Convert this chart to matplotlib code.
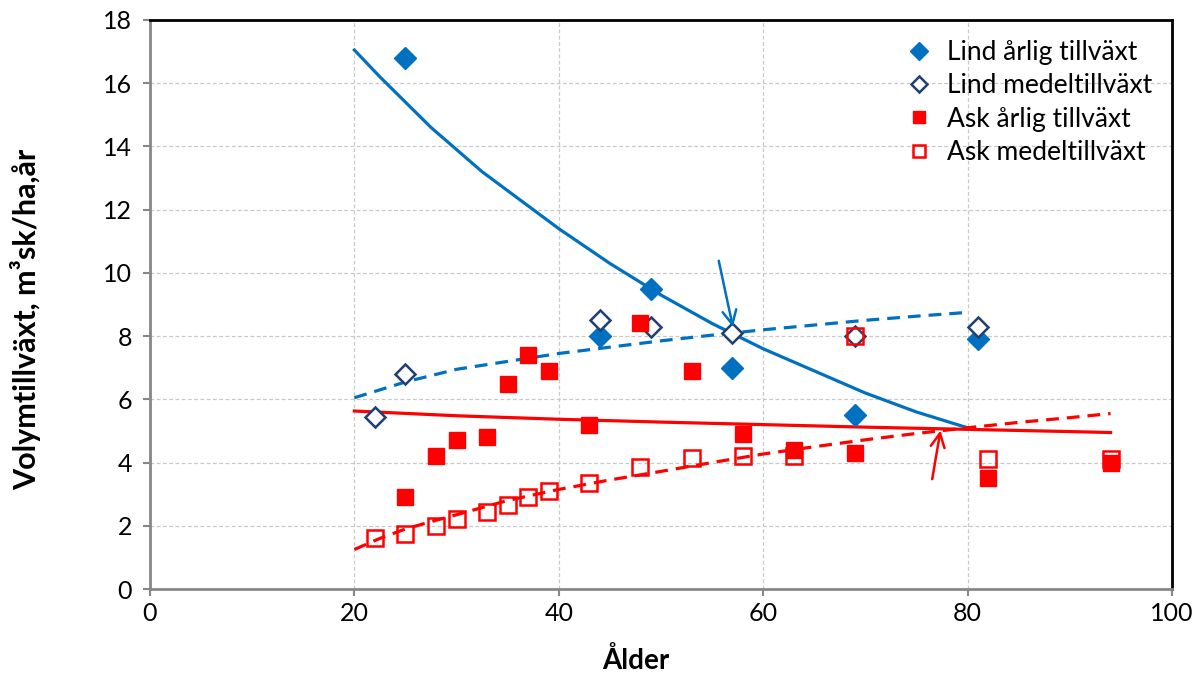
import matplotlib
matplotlib.use("Agg")

import numpy as np
import matplotlib.pyplot as plt

plt.rcParams['font.family'] = ['Lato', 'DejaVu Sans']

# measured points
lind_arlig_x = [25, 44, 49, 57, 69, 81]
lind_arlig_y = [16.8, 8.0, 9.5, 7.0, 5.5, 7.9]

lind_medel_x = [22, 25, 44, 49, 57, 69, 81]
lind_medel_y = [5.45, 6.8, 8.5, 8.3, 8.1, 8.0, 8.3]

ask_arlig_x = [25, 28, 30, 33, 35, 37, 39, 43, 48, 53, 58, 63, 69, 82, 94]
ask_arlig_y = [2.9, 4.2, 4.7, 4.8, 6.5, 7.4, 6.9, 5.2, 8.4, 6.9, 4.9, 4.4, 4.3, 3.5, 4.0]

ask_medel_x = [22, 25, 28, 30, 33, 35, 37, 39, 43, 48, 53, 58, 63, 69, 82, 94]
ask_medel_y = [1.6, 1.75, 2.0, 2.2, 2.45, 2.65, 2.9, 3.1, 3.35, 3.85, 4.15, 4.2, 4.2, 8.0, 4.1, 4.1]

# model curves
lind_arlig_kurva_x = [20, 22.5, 25, 27.5, 30, 32.5, 35, 37.5, 40, 42.5, 45, 47.5, 50,
                      52.5, 55, 57.5, 60, 62.5, 65, 67.5, 70, 72.5, 75, 77.5, 80]
lind_arlig_kurva_y = [17.05, 16.2, 15.4, 14.6, 13.9, 13.2, 12.6, 12.0, 11.4, 10.85, 10.3, 9.8, 9.3,
                      8.85, 8.4, 8.0, 7.6, 7.25, 6.9, 6.55, 6.2, 5.9, 5.6, 5.35, 5.1]

lind_medel_kurva_x = [20, 25, 30, 35, 40, 45, 50, 55, 60, 65, 70, 75, 80]
lind_medel_kurva_y = [6.05, 6.55, 6.95, 7.2, 7.45, 7.65, 7.85, 8.03, 8.2, 8.35, 8.5, 8.63, 8.75]

ask_arlig_kurva_x = [20, 30, 40, 50, 60, 70, 80, 90, 94]
ask_arlig_kurva_y = [5.63, 5.48, 5.37, 5.28, 5.2, 5.12, 5.05, 4.98, 4.95]

ask_medel_kurva_x = [20, 22.5, 25, 27.5, 30, 35, 40, 45, 50, 55, 60, 65, 70, 75, 80, 85, 90, 94]
ask_medel_kurva_y = [1.25, 1.6, 1.9, 2.13, 2.35, 2.8, 3.15, 3.45, 3.72, 4.0, 4.27, 4.5, 4.72,
                     4.92, 5.1, 5.27, 5.42, 5.55]

BLUE = '#0070C0'
NAVY = '#1F3F73'
RED = '#FF0000'


def main():
    fig = plt.figure(figsize=(11.98, 6.75), dpi=100)
    ax = fig.add_axes([0.1252, 0.1274, 0.853, 0.8430])

    ax.plot(lind_arlig_kurva_x, lind_arlig_kurva_y, color=BLUE, lw=2.3)
    ax.plot(lind_medel_kurva_x, lind_medel_kurva_y, color=BLUE, lw=2.3, ls=(0, (4, 2.5)))
    ax.plot(ask_arlig_kurva_x, ask_arlig_kurva_y, color=RED, lw=2.3)
    ax.plot(ask_medel_kurva_x, ask_medel_kurva_y, color=RED, lw=2.3, ls=(0, (4, 2.5)))

    ax.plot(lind_arlig_x, lind_arlig_y, 'D', color=BLUE, ms=11, ls='none', label='Lind årlig tillväxt')
    ax.plot(lind_medel_x, lind_medel_y, 'D', mfc='white', mec=NAVY, mew=1.8, ms=10,
            ls='none', label='Lind medeltillväxt')
    ax.plot(ask_arlig_x, ask_arlig_y, 's', color=RED, ms=11, ls='none', label='Ask årlig tillväxt')
    ax.plot(ask_medel_x, ask_medel_y, 's', mfc='none', mec=RED, mew=1.8, ms=11,
            ls='none', label='Ask medeltillväxt')

    # arrows pointing at the crossings
    ax.annotate('', xy=(57.1, 8.2), xytext=(55.6, 10.47),
                arrowprops=dict(arrowstyle='->', color=BLUE, lw=1.8, mutation_scale=25))
    ax.annotate('', xy=(77.4, 5.1), xytext=(76.5, 3.39),
                arrowprops=dict(arrowstyle='->', color=RED, lw=1.8, mutation_scale=25))

    ax.set_xlim(0, 100)
    ax.set_ylim(0, 18)
    ax.set_xticks(np.arange(0, 101, 20))
    ax.set_yticks(np.arange(0, 19, 2))
    ax.grid(True, color='#C8C8C8', ls=(0, (3, 2)), lw=0.9)
    ax.set_axisbelow(True)

    for s in ['left', 'bottom']:
        ax.spines[s].set_color('#878787')
        ax.spines[s].set_linewidth(2)
    for s in ['top', 'right']:
        ax.spines[s].set_color('black')
        ax.spines[s].set_linewidth(2)
    ax.tick_params(axis='both', colors='#878787', labelcolor='black', labelsize=18,
                   length=5, width=1.5, direction='out')
    ax.tick_params(axis='x', pad=4)
    ax.tick_params(axis='y', pad=8)

    ax.set_xlabel('Ålder', fontsize=20, fontweight='bold')
    ax.set_ylabel('Volymtillväxt, m³sk/ha,år', fontsize=22, fontweight='bold')
    ax.xaxis.set_label_coords(0.4755, -0.102)
    ax.yaxis.set_label_coords(-0.106, 0.473)

    ax.legend(loc='upper right', frameon=False, fontsize=19, handletextpad=0.45,
              handlelength=1.2, borderaxespad=0.35, borderpad=0.4, labelspacing=0.32,
              markerscale=0.85)

    fig.savefig('out.png', dpi=100)
    plt.close(fig)


if __name__ == "__main__":
    main()
